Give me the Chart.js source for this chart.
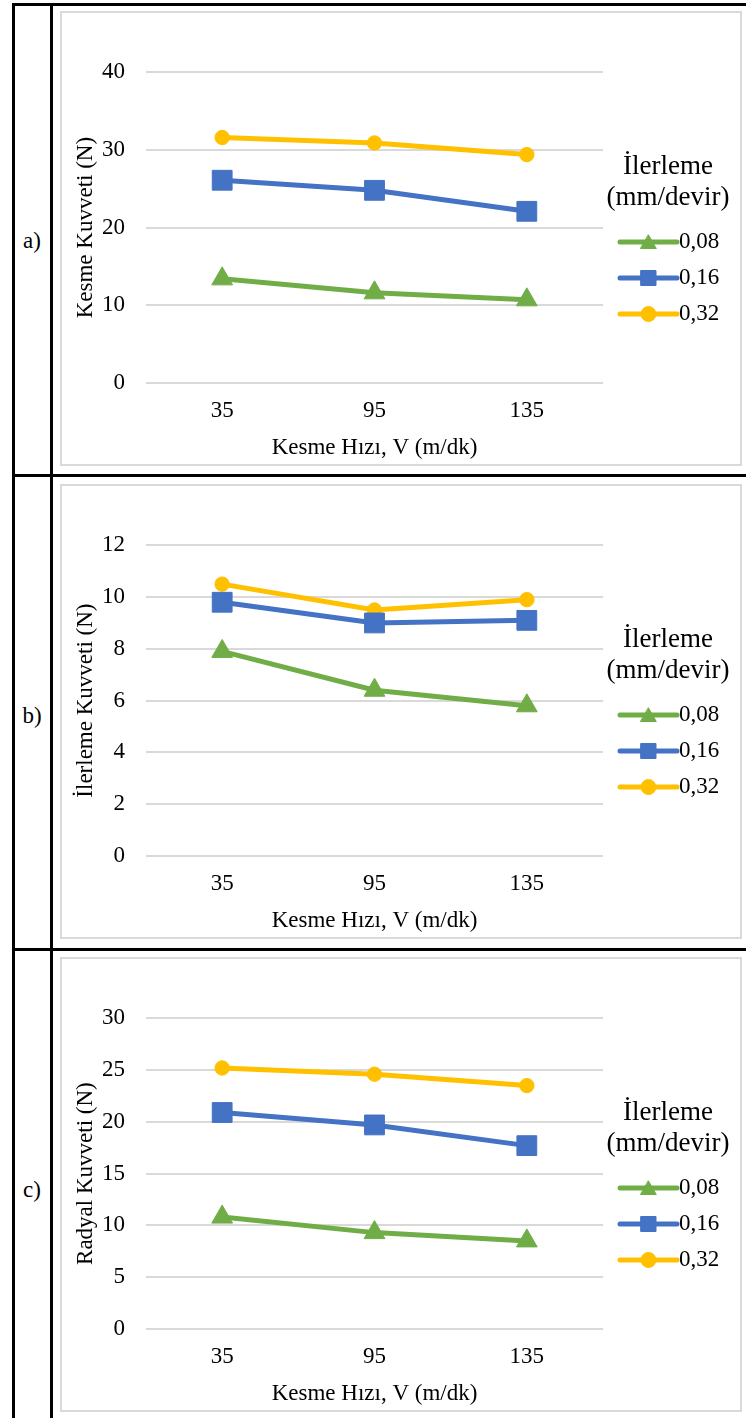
<!DOCTYPE html>
<html lang="tr">
<head>
<meta charset="utf-8">
<title>Kesme, İlerleme ve Radyal Kuvvetleri</title>
<script src="https://cdn.jsdelivr.net/npm/chart.js@4.4.0/dist/chart.umd.min.js"></script>
<style>
  html, body { margin: 0; padding: 0; background: #ffffff; }
  body { width: 746px; height: 1418px; position: relative; overflow: hidden; font-family: "Liberation Serif", "Times New Roman", serif; }
  .rule { position: absolute; background: #000; }
  .tag { position: absolute; left: 14px; width: 36px; text-align: center; font-size: 23px; line-height: 24px; color: #000; }
  .box { position: absolute; left: 60px; width: 682px; height: 455px; border: 2px solid #d9d9d9; box-sizing: border-box; background: #fff; }
  .box canvas { position: absolute; left: 0; top: 0; }
</style>
</head>
<body>
<!-- table frame -->
<div class="rule" style="left:12px; top:3px; width:3px; height:1415px;"></div>
<div class="rule" style="left:50px; top:3px; width:3px; height:1415px;"></div>
<div class="rule" style="left:12px; top:3px; width:734px; height:3px;"></div>
<div class="rule" style="left:12px; top:474px; width:734px; height:3px;"></div>
<div class="rule" style="left:12px; top:948px; width:734px; height:3px;"></div>

<div class="tag" style="top:229px;">a)</div>
<div class="tag" style="top:704px;">b)</div>
<div class="tag" style="top:1178px;">c)</div>

<div class="box" style="top:11px;"><canvas id="chartA" width="678" height="451"></canvas></div>
<div class="box" style="top:484px;"><canvas id="chartB" width="678" height="451"></canvas></div>
<div class="box" style="top:957px;"><canvas id="chartC" width="678" height="451"></canvas></div>

<script>
// Cutting speed categories (m/dk)
const speeds = ['35', '95', '135'];

// Feed rates (mm/devir)
const feedLabels = ['0,08', '0,16', '0,32'];

// a) Cutting force (N)
const cuttingForce008 = [13.4, 11.6, 10.7];
const cuttingForce016 = [26.1, 24.8, 22.1];
const cuttingForce032 = [31.6, 30.9, 29.4];

// b) Feed force (N)
const feedForce008 = [7.9, 6.4, 5.8];
const feedForce016 = [9.8, 9.0, 9.1];
const feedForce032 = [10.5, 9.5, 9.9];

// c) Radial force (N)
const radialForce008 = [10.8, 9.3, 8.5];
const radialForce016 = [20.9, 19.7, 17.7];
const radialForce032 = [25.2, 24.6, 23.5];

// y axis ranges: [max, step]
const cuttingAxis = [40, 10];
const feedAxis = [12, 2];
const radialAxis = [30, 5];

const xTitle = 'Kesme Hızı, V (m/dk)';
const legendTitle = ['İlerleme', '(mm/devir)'];

const FONT = '"Liberation Serif", "Times New Roman", serif';
const TEXT = '#000000';
const GRID = '#d9d9d9';

const seriesStyle = [
  { color: '#70AD47', pointStyle: 'triangle', radius: 12, legendRadius: 9 },
  { color: '#4472C4', pointStyle: 'rect', radius: 14, legendRadius: 10.6 },
  { color: '#FFC000', pointStyle: 'circle', radius: 7.2, legendRadius: 7.5 }
];

// Legend drawn to the right of the plot: a two-line title and
// line-with-marker samples for each dataset.
const sideLegend = {
  id: 'sideLegend',
  afterDraw(chart, args, opts) {
    const ctx = chart.ctx;
    const area = chart.chartArea;
    const x0 = area.right + opts.lineStart;
    ctx.save();
    ctx.fillStyle = TEXT;
    ctx.textBaseline = 'middle';
    ctx.textAlign = 'center';
    ctx.font = opts.titleSize + 'px ' + FONT;
    opts.title.forEach((t, i) => {
      ctx.fillText(t, area.right + opts.titleCenter, opts.titleY + i * opts.titleGap);
    });
    ctx.textAlign = 'left';
    ctx.font = opts.labelSize + 'px ' + FONT;
    chart.data.datasets.forEach((ds, i) => {
      const y = opts.itemY + i * opts.itemGap;
      ctx.strokeStyle = ds.borderColor;
      ctx.lineWidth = ds.borderWidth;
      ctx.lineCap = 'round';
      ctx.beginPath();
      ctx.moveTo(x0, y);
      ctx.lineTo(x0 + opts.lineLength, y);
      ctx.stroke();
      ctx.fillStyle = ds.pointBackgroundColor;
      ctx.strokeStyle = ds.pointBorderColor;
      ctx.lineWidth = 1;
      Chart.helpers.drawPoint(ctx, {
        pointStyle: ds.pointStyle,
        radius: seriesStyle[i].legendRadius,
        borderWidth: 1,
        rotation: 0
      }, x0 + opts.lineLength / 2, y + (ds.pointStyle === 'triangle' ? 2 : 0));
      ctx.fillStyle = TEXT;
      ctx.fillText(ds.label, x0 + opts.lineLength + 2, y);
    });
    ctx.restore();
  }
};

function makeDatasets(values) {
  return values.map((v, i) => ({
    label: feedLabels[i],
    data: v,
    borderColor: seriesStyle[i].color,
    backgroundColor: seriesStyle[i].color,
    pointBackgroundColor: seriesStyle[i].color,
    pointBorderColor: seriesStyle[i].color,
    pointStyle: seriesStyle[i].pointStyle,
    pointRadius: seriesStyle[i].radius,
    pointHoverRadius: seriesStyle[i].radius,
    pointBorderWidth: 1,
    borderWidth: 5,
    tension: 0,
    fill: false
  }));
}

function makeChart(id, values, yTitle, axis) {
  return new Chart(document.getElementById(id), {
    type: 'line',
    data: { labels: speeds, datasets: makeDatasets(values) },
    plugins: [sideLegend],
    options: {
      responsive: false,
      animation: false,
      events: [],
      layout: { padding: { left: 0, right: 137, top: 59.3, bottom: 0 } },
      plugins: {
        legend: { display: false },
        tooltip: { enabled: false },
        sideLegend: {
          title: legendTitle,
          titleSize: 27,
          labelSize: 23,
          titleCenter: 65,
          titleY: 154,
          titleGap: 31,
          lineStart: 17,
          lineLength: 57,
          itemY: 229,
          itemGap: 36
        }
      },
      scales: {
        x: {
          offset: true,
          grid: { display: false, drawTicks: false },
          border: { display: false },
          ticks: { color: TEXT, font: { family: FONT, size: 23 }, padding: 14, maxRotation: 0 },
          title: { display: true, text: xTitle, color: TEXT, font: { family: FONT, size: 23 }, padding: { top: 0, bottom: 2 } },
          afterFit(scale) { scale.height = 81.1; }
        },
        y: {
          min: 0,
          max: axis[0],
          grid: { color: GRID, lineWidth: 2, drawTicks: false },
          border: { display: false },
          ticks: { stepSize: axis[1], color: TEXT, font: { family: FONT, size: 23 }, padding: 21 },
          title: { display: true, text: yTitle, color: TEXT, font: { family: FONT, size: 23 }, padding: { top: 10, bottom: 0 } },
          afterFit(scale) { scale.width = 84; }
        }
      }
    }
  });
}

makeChart('chartA', [cuttingForce008, cuttingForce016, cuttingForce032], 'Kesme Kuvveti (N)', cuttingAxis);
makeChart('chartB', [feedForce008, feedForce016, feedForce032], 'İlerleme Kuvveti (N)', feedAxis);
makeChart('chartC', [radialForce008, radialForce016, radialForce032], 'Radyal Kuvveti (N)', radialAxis);
</script>
</body>
</html>
